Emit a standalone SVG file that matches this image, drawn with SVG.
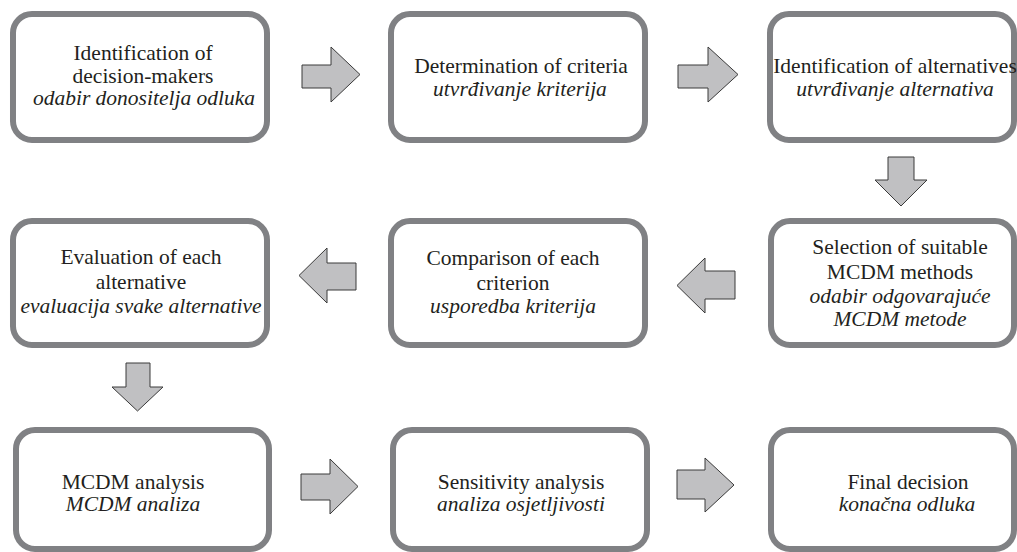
<svg xmlns="http://www.w3.org/2000/svg" width="1017" height="552" viewBox="0 0 1017 552">
<style>
.box{fill:#ffffff;stroke:#808184;stroke-width:6}
.arr{fill:#c0c0c2;stroke:#3a3a3a;stroke-width:1;stroke-linejoin:miter}
text{font-family:"Liberation Serif","Times New Roman",serif;font-size:21.5px;fill:#231f20;text-anchor:middle}
.it{font-style:italic}
</style>
<rect width="1017" height="552" fill="#ffffff"/>
<g id="n1"><rect class="box" x="13" y="14" width="254" height="126" rx="19"/>
<text x="143" y="60">Identification of</text><text x="143" y="83">decision-makers</text><text class="it" x="144" y="105">odabir donositelja odluka</text></g>
<g id="n2"><rect class="box" x="391" y="14" width="254" height="126" rx="19"/>
<text x="521" y="73">Determination of criteria</text><text class="it" x="520" y="96">utvrđivanje kriterija</text></g>
<g id="n3"><rect class="box" x="770" y="14" width="244" height="126" rx="19"/>
<text x="895" y="73">Identification of alternatives</text><text class="it" x="895" y="96">utvrđivanje alternativa</text></g>
<g id="n4"><rect class="box" x="13" y="221" width="254" height="124" rx="19"/>
<text x="141" y="264">Evaluation of each</text><text x="141" y="289">alternative</text><text class="it" x="141" y="313">evaluacija svake alternative</text></g>
<g id="n5"><rect class="box" x="391" y="221" width="254" height="124" rx="19"/>
<text x="513" y="265">Comparison of each</text><text x="513" y="290">criterion</text><text class="it" x="513" y="313">usporedba kriterija</text></g>
<g id="n6"><rect class="box" x="771" y="221" width="243" height="124" rx="19"/>
<text x="900" y="254">Selection of suitable</text><text x="900" y="279">MCDM methods</text><text class="it" x="900" y="303">odabir odgovarajuće</text><text class="it" x="900" y="326">MCDM metode</text></g>
<g id="n7"><rect class="box" x="16" y="430" width="253" height="119" rx="19"/>
<text x="133" y="489">MCDM analysis</text><text class="it" x="133" y="511">MCDM analiza</text></g>
<g id="n8"><rect class="box" x="393" y="430" width="254" height="119" rx="19"/>
<text x="521" y="489">Sensitivity analysis</text><text class="it" x="521" y="511">analiza osjetljivosti</text></g>
<g id="n9"><rect class="box" x="771" y="430" width="243" height="119" rx="19"/>
<text x="908" y="489">Final decision</text><text class="it" x="907" y="511">konačna odluka</text></g>
<g id="connectors">
<polygon class="arr" points="302,65 331,65 331,47 360,74.5 331,102 331,88 302,88"/>
<polygon class="arr" points="678,65 708,65 708,47 738,74.5 708,102 708,88 678,88"/>
<polygon class="arr" points="888,157 914,157 914,180 927,180 901,206 875,180 888,180"/>
<polygon class="arr" points="356,263 327,263 327,248 299,275.5 327,303 327,290 356,290"/>
<polygon class="arr" points="735,271 705,271 705,258 677,285.5 705,313 705,299 735,299"/>
<polygon class="arr" points="126,363 150,363 150,387 163,387 137.5,411 112,387 126,387"/>
<polygon class="arr" points="301,474 330,474 330,459 358,486.5 330,514 330,500 301,500"/>
<polygon class="arr" points="677,470 705,470 705,458 734,485 705,512 705,499 677,499"/>
</g>
</svg>
